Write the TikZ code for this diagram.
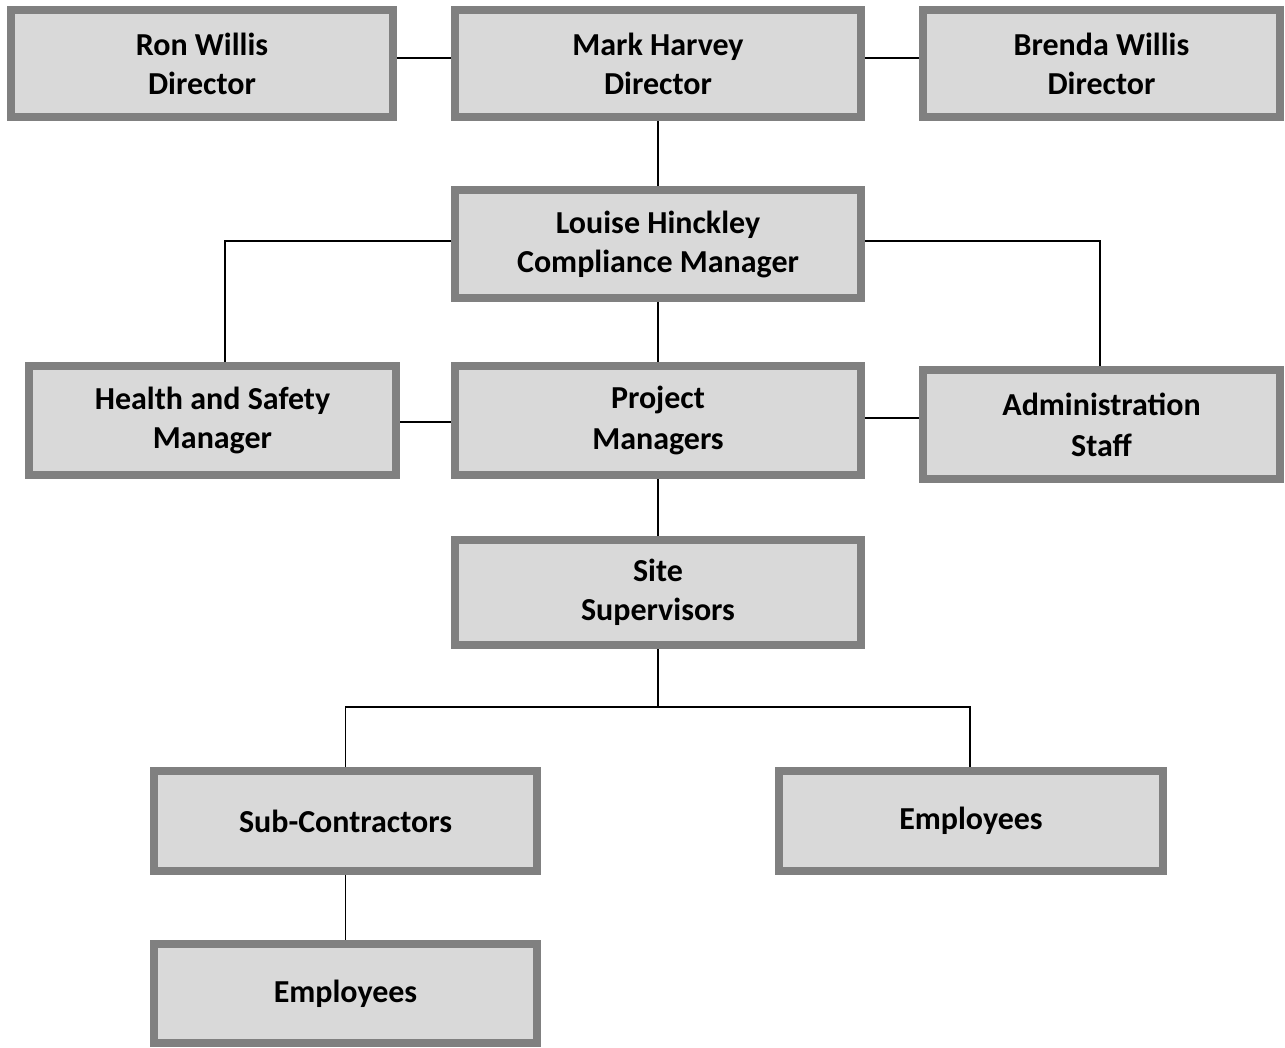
\documentclass[tikz,border=0pt]{standalone}
\usepackage{fontspec}
\setmainfont{Carlito}
\definecolor{boxfill}{HTML}{D9D9D9}
\definecolor{boxline}{HTML}{808080}
\begin{document}
\begin{tikzpicture}[x=1pt,y=-1pt,
  box/.style={draw=boxline, fill=boxfill, line width=8pt, outer sep=4pt, inner sep=0pt,
    align=center, font=\fontsize{32}{39}\selectfont\bfseries},
  conn/.style={draw=black, line width=1.6pt}]
\useasboundingbox (0,0) rectangle (1285,1047);
\node[box, minimum width=382pt, minimum height=107pt] (ron) at (202,63.5) {Ron Willis\\Director};
\node[box, minimum width=406pt, minimum height=107pt] (mark) at (658,63.5) {Mark Harvey\\Director};
\node[box, minimum width=357pt, minimum height=107pt] (brenda) at (1101.5,63.5) {Brenda Willis\\Director};
\node[box, minimum width=406pt, minimum height=108pt] (louise) at (658,244) {Louise Hinckley\\Compliance Manager};
\node[box, minimum width=367pt, minimum height=109pt] (hs) at (212.5,420.5) {Health and Safety\\Manager};
\node[box, minimum width=406pt, minimum height=109pt, font=\fontsize{32}{41}\selectfont\bfseries] (pm) at (658,420.5) {Project\\Managers};
\node[box, minimum width=357pt, minimum height=109pt, font=\fontsize{32}{41}\selectfont\bfseries] (admin) at (1101.5,424.5) {Administration\\Staff};
\node[box, minimum width=406pt, minimum height=105pt] (site) at (658,592.5) {Site\\Supervisors};
\node[box, minimum width=383pt, minimum height=100pt] (sub) at (345.5,821) {Sub-Contractors};
\node[box, minimum width=384pt, minimum height=100pt] (emp1) at (971,821) {Employees};
\node[box, minimum width=383pt, minimum height=99pt] (emp2) at (345.5,993.5) {Employees};
\coordinate (split) at (658,707);
\draw[conn] (ron.east |- 0,58) -- (mark.west |- 0,58);
\draw[conn] (mark.east |- 0,58) -- (brenda.west |- 0,58);
\draw[conn] (mark.south) -- (louise.north);
\draw[conn] (louise.west |- 0,241) -| ([xshift=12.5pt]hs.north);
\draw[conn] (louise.east |- 0,241) -| ([xshift=-1.5pt]admin.north);
\draw[conn] (louise.south) -- (pm.north);
\draw[conn] (hs.east |- 0,422) -- (pm.west |- 0,422);
\draw[conn] (pm.east |- 0,418) -- (admin.west |- 0,418);
\draw[conn] (pm.south) -- (site.north);
\draw[conn] (site.south) -- (split);
\draw[conn] (sub.north) |- (split) -| ([xshift=-1pt]emp1.north);
\draw[conn] (sub.south) -- (emp2.north);
\end{tikzpicture}
\end{document}
